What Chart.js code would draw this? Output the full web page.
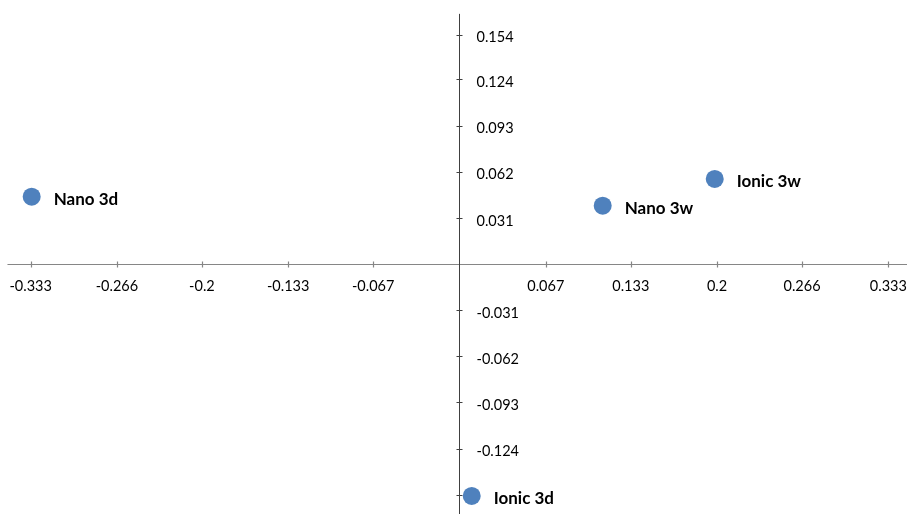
<!DOCTYPE html>
<html>
<head>
<meta charset="utf-8">
<title>Scatter</title>
<script src="https://cdn.jsdelivr.net/npm/chart.js@4.4.1/dist/chart.umd.min.js"></script>
<style>
  html, body { margin: 0; padding: 0; background: #ffffff; }
  #wrap { width: 907px; height: 514px; }
</style>
</head>
<body>
<div id="wrap"><canvas id="map" width="907" height="514"></canvas></div>
<script>
const pointNames = ["Nano 3d", "Nano 3w", "Ionic 3w", "Ionic 3d"];
const xValues = [-0.3322, 0.1112, 0.1982, 0.0095];
const yValues = [0.0452, 0.0392, 0.0571, -0.1558];

const xTicks = [-0.333, -0.266, -0.2, -0.133, -0.067, 0.067, 0.133, 0.2, 0.266, 0.333];
const yTicks = [0.154, 0.124, 0.093, 0.062, 0.031, -0.031, -0.062, -0.093, -0.124, -0.155];
// last y tick sits under the "Ionic 3d" label, so it has no text
const yTickText = ["0.154", "0.124", "0.093", "0.062", "0.031", "-0.031", "-0.062", "-0.093", "-0.124", ""];

const FONT = "Lato, 'Open Sans', sans-serif";

// axes cross at the origin, drawn by hand from the scales
const crossAxes = {
  id: "crossAxes",
  beforeDatasetsDraw(chart) {
    const { ctx, scales: { x, y } } = chart;
    const x0 = Math.round(x.getPixelForValue(0)) + 0.5;
    const y0 = Math.round(y.getPixelForValue(0)) + 0.5;
    ctx.save();

    // horizontal axis
    ctx.strokeStyle = "#868686";
    ctx.lineWidth = 1.2;
    ctx.beginPath();
    ctx.moveTo(x.getPixelForValue(-0.351), y0);
    ctx.lineTo(x.getPixelForValue(0.351), y0);
    xTicks.forEach(v => {
      const px = Math.round(x.getPixelForValue(v)) + 0.5;
      ctx.moveTo(px, y0 - 3);
      ctx.lineTo(px, y0 + 3);
    });
    ctx.stroke();

    // vertical axis
    ctx.strokeStyle = "#404040";
    ctx.lineWidth = 1;
    ctx.beginPath();
    ctx.moveTo(x0, y.getPixelForValue(0.168));
    ctx.lineTo(x0, y.getPixelForValue(-0.168));
    yTicks.forEach(v => {
      const py = Math.round(y.getPixelForValue(v)) + 0.5;
      ctx.moveTo(x0 - 3, py);
      ctx.lineTo(x0 + 3, py);
    });
    ctx.stroke();

    ctx.fillStyle = "#000000";
    ctx.font = "14.5px " + FONT;
    ctx.textAlign = "center";
    ctx.textBaseline = "middle";
    xTicks.forEach(v => {
      ctx.fillText(String(v), x.getPixelForValue(v), y0 + 22);
    });
    ctx.textAlign = "left";
    yTicks.forEach((v, i) => {
      ctx.fillText(yTickText[i], x0 + 17, y.getPixelForValue(v) + 3);
    });
    ctx.restore();
  },
  afterDatasetsDraw(chart) {
    const { ctx } = chart;
    const meta = chart.getDatasetMeta(0);
    ctx.save();
    ctx.fillStyle = "#000000";
    ctx.font = "bold 17px " + FONT;
    ctx.textAlign = "left";
    ctx.textBaseline = "middle";
    meta.data.forEach((pt, i) => {
      ctx.fillText(pointNames[i], pt.x + 22, pt.y + 3);
    });
    ctx.restore();
  }
};

new Chart(document.getElementById("map"), {
  type: "scatter",
  data: {
    datasets: [
      {
        data: xValues.map((v, i) => ({ x: v, y: yValues[i] })),
        backgroundColor: "#4f81bd",
        borderColor: "#4f81bd",
        borderWidth: 0,
        pointRadius: 9,
        pointHoverRadius: 9,
      },
    ],
  },
  options: {
    responsive: false,
    animation: false,
    layout: { padding: 0, autoPadding: false },
    scales: {
      x: { type: "linear", display: false, min: -0.3568, max: 0.3475 },
      y: { type: "linear", display: false, min: -0.1679, max: 0.1773 },
    },
    plugins: {
      legend: { display: false },
      tooltip: { enabled: false },
    },
  },
  plugins: [crossAxes],
});
</script>
</body>
</html>
